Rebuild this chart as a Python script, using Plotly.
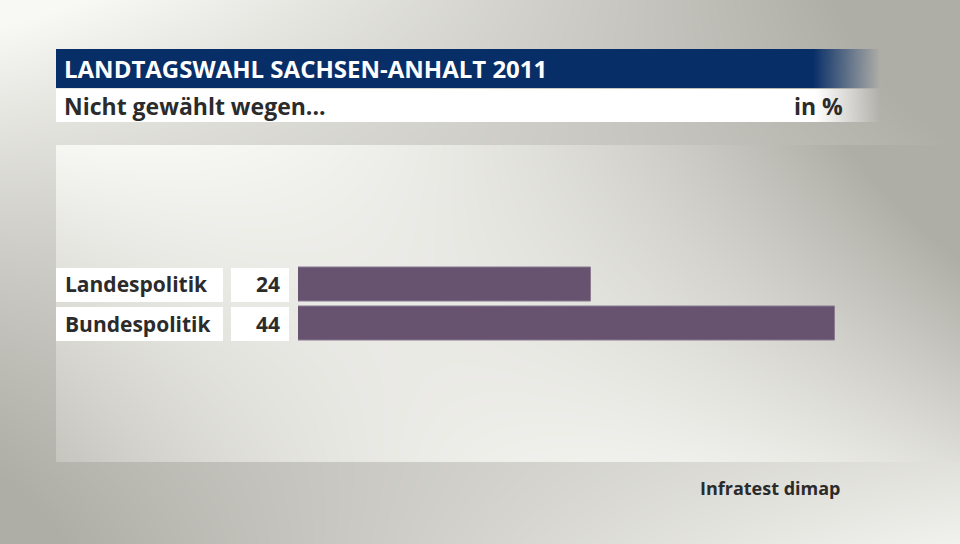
import numpy as np, zlib, struct, base64
import plotly.graph_objects as go

# ---------------- data ----------------
categories = ["Landespolitik", "Bundespolitik"]
values = [24, 44]
title_text = "LANDTAGSWAHL SACHSEN-ANHALT 2011"
subtitle_text = "Nicht gewählt wegen..."
unit_text = "in %"
source_text = "Infratest dimap"
x_max = 44

BAR_COLOR = "#675370"
TEXT_COLOR = "#2b2b2b"
FONT = "Open Sans"

W, H = 960, 544

# ---------------- background image (decoration only) ----------------
yy, xx = np.mgrid[0:H, 0:W].astype(float) + 0.5

def fit_surface(samples):
    s = np.array(samples, float)
    x, y, L = s[:, 0] / W, s[:, 1] / H, s[:, 2]
    A = np.stack([np.ones_like(x), x, y, x * x, x * y, y * y], 1)
    coef, *_ = np.linalg.lstsq(A, L, rcond=None)
    X, Y = xx / W, yy / H
    return coef[0] + coef[1] * X + coef[2] * Y + coef[3] * X * X + coef[4] * X * Y + coef[5] * Y * Y

outer_tones = [(20, 20, 241), (100, 20, 238), (300, 20, 228), (500, 20, 214), (700, 20, 195),
               (900, 20, 176), (940, 140, 176), (600, 135, 182), (300, 135, 215), (30, 140, 243),
               (30, 300, 201), (30, 450, 176), (100, 500, 178), (400, 540, 196), (600, 540, 220),
               (600, 470, 236), (800, 500, 232), (940, 520, 232), (955, 300, 190), (955, 200, 176)]
panel_tones = [(60, 150, 244), (200, 160, 240), (400, 200, 232), (600, 150, 217), (800, 150, 192),
               (870, 200, 176), (700, 250, 210), (800, 300, 207), (600, 300, 224), (900, 400, 203),
               (940, 455, 226), (650, 420, 240), (600, 445, 246), (450, 450, 238), (400, 445, 235),
               (60, 440, 196), (60, 250, 236), (60, 350, 222), (200, 440, 210),
               (150, 200, 243), (300, 180, 237), (300, 250, 236)]

Lo = fit_surface(outer_tones)
Lp = fit_surface(panel_tones)
inside = (xx >= 56) & (yy >= 145) & (yy < 462)
w = np.clip((xx - 800) / 80, 0, 1) * np.clip((320 - yy) / 120, 0, 1)
Lpanel = Lp * (1 - w) + np.minimum(Lp, Lo) * w
L = np.clip(np.where(inside, Lpanel, Lo), 174, 248)
t = (L - 175) / (248 - 175)
light = np.array([248, 248, 244], float)
dark = np.array([175, 174, 167], float)
img = dark[None, None, :] + (light - dark)[None, None, :] * t[..., None]

# header bars with right-hand fade
blue = np.array([8, 46, 103], float)
white = np.array([255, 255, 255], float)
alpha = np.where(xx < 56, 0, np.clip((880 - xx) / (880 - 813), 0, 1))
a1 = np.where((yy >= 49) & (yy < 88.5), alpha, 0)[..., None]
img = img * (1 - a1) + blue * a1
alpha2 = np.where(xx < 56, 0, np.clip((880 - xx) / (880 - 815), 0, 1))
a2 = np.where((yy >= 89) & (yy < 122.5), alpha2, 0)[..., None]
img = img * (1 - a2) + white * a2
img = np.clip(img + 0.5, 0, 255).astype(np.uint8)

def make_png(arr):
    h, w_, _ = arr.shape
    raw = b"".join(b"\x00" + arr[r].tobytes() for r in range(h))
    def chunk(tag, data):
        c = struct.pack(">I", len(data)) + tag + data
        return c + struct.pack(">I", zlib.crc32(tag + data) & 0xffffffff)
    png = b"\x89PNG\r\n\x1a\n"
    png += chunk(b"IHDR", struct.pack(">IIBBBBB", w_, h, 8, 2, 0, 0, 0))
    png += chunk(b"IDAT", zlib.compress(raw, 9))
    png += chunk(b"IEND", b"")
    return "data:image/png;base64," + base64.b64encode(png).decode()

bg_src = make_png(img)

# ---------------- figure ----------------
fig = go.Figure()

# label boxes
fig.add_trace(go.Bar(
    y=categories, x=[1] * len(categories), orientation="h",
    marker=dict(color="white", line=dict(width=0)),
    xaxis="x2", yaxis="y", width=0.873, hoverinfo="skip", showlegend=False))
# value boxes
fig.add_trace(go.Bar(
    y=categories, x=[1] * len(categories), orientation="h",
    marker=dict(color="white", line=dict(width=0)),
    xaxis="x3", yaxis="y", width=0.873, hoverinfo="skip", showlegend=False))
# data bars
fig.add_trace(go.Bar(
    y=categories, x=values, orientation="h",
    marker=dict(color=BAR_COLOR, line=dict(width=1, color="#8a7b90")),
    xaxis="x", yaxis="y", width=0.873, showlegend=False))

annotations = []
for c, v in zip(categories, values):
    annotations.append(dict(x=63 / W, xref="paper", y=c, yref="y", text=f"<b>{c}</b>",
                            showarrow=False, xanchor="left", yanchor="middle",
                            font=dict(family=FONT, size=21, color=TEXT_COLOR)))
    annotations.append(dict(x=282 / W, xref="paper", y=c, yref="y", text=f"<b>{v}</b>",
                            showarrow=False, xanchor="right", yanchor="middle",
                            font=dict(family=FONT, size=21, color=TEXT_COLOR)))

annotations += [
    dict(x=62 / W, y=1 - 68.5 / H, xref="paper", yref="paper", text=f"<b>{title_text}</b>",
         showarrow=False, xanchor="left", yanchor="middle",
         font=dict(family=FONT, size=24, color="white")),
    dict(x=62 / W, y=1 - 106 / H, xref="paper", yref="paper", text=f"<b>{subtitle_text}</b>",
         showarrow=False, xanchor="left", yanchor="middle",
         font=dict(family=FONT, size=23, color=TEXT_COLOR)),
    dict(x=845 / W, y=1 - 106 / H, xref="paper", yref="paper", text=f"<b>{unit_text}</b>",
         showarrow=False, xanchor="right", yanchor="middle",
         font=dict(family=FONT, size=23, color=TEXT_COLOR)),
    dict(x=843 / W, y=1 - 488 / H, xref="paper", yref="paper", text=f"<b>{source_text}</b>",
         showarrow=False, xanchor="right", yanchor="middle",
         font=dict(family=FONT, size=18, color=TEXT_COLOR)),
]

y_dom = [1 - 343.5 / H, 1 - 264.5 / H]
hidden = dict(showgrid=False, zeroline=False, showticklabels=False, showline=False, ticks="")

fig.update_layout(
    width=W, height=H,
    margin=dict(l=0, r=0, t=0, b=0),
    paper_bgcolor="#d8d8d2", plot_bgcolor="rgba(0,0,0,0)",
    barmode="overlay", bargap=0,
    xaxis=dict(domain=[298 / W, 835 / W], range=[0, x_max], fixedrange=True, **hidden),
    xaxis2=dict(domain=[56 / W, 223 / W], range=[0, 1], anchor="y", fixedrange=True, **hidden),
    xaxis3=dict(domain=[231 / W, 289 / W], range=[0, 1], anchor="y", fixedrange=True, **hidden),
    yaxis=dict(domain=y_dom, autorange="reversed", type="category", fixedrange=True, **hidden),
    annotations=annotations,
    images=[dict(source=bg_src, xref="paper", yref="paper", x=0, y=1, sizex=1, sizey=1,
                 xanchor="left", yanchor="top", sizing="stretch", layer="below")],
    showlegend=False,
)

fig.write_html("out.html", config={"displayModeBar": False})
